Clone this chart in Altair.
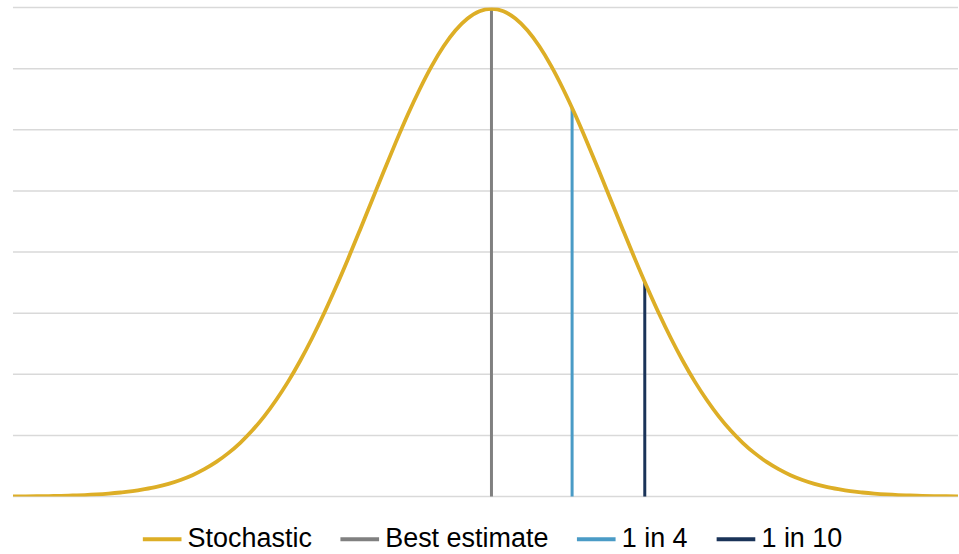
import altair as alt
import pandas as pd

# Standard-normal style density (x in standard deviations)
x_vals = [-4.0, -3.9, -3.8, -3.7, -3.6, -3.5, -3.4, -3.3, -3.2, -3.1, -3.0,
          -2.9, -2.8, -2.7, -2.6, -2.5, -2.4, -2.3, -2.2, -2.1, -2.0,
          -1.9, -1.8, -1.7, -1.6, -1.5, -1.4, -1.3, -1.2, -1.1, -1.0,
          -0.9, -0.8, -0.7, -0.6, -0.5, -0.4, -0.3, -0.2, -0.1, 0.0,
          0.1, 0.2, 0.3, 0.4, 0.5, 0.6, 0.7, 0.8, 0.9, 1.0,
          1.1, 1.2, 1.3, 1.4, 1.5, 1.6, 1.7, 1.8, 1.9, 2.0,
          2.1, 2.2, 2.3, 2.4, 2.5, 2.6, 2.7, 2.8, 2.9, 3.0,
          3.1, 3.2, 3.3, 3.4, 3.5, 3.6, 3.7, 3.8, 3.9, 4.0]
density = [0.0001, 0.0002, 0.0003, 0.0004, 0.0006, 0.0009, 0.0012, 0.0017, 0.0024, 0.0033, 0.0044,
           0.0060, 0.0079, 0.0104, 0.0136, 0.0175, 0.0224, 0.0283, 0.0355, 0.0440, 0.0540,
           0.0656, 0.0790, 0.0940, 0.1109, 0.1295, 0.1497, 0.1714, 0.1942, 0.2179, 0.2420,
           0.2661, 0.2897, 0.3123, 0.3332, 0.3521, 0.3683, 0.3814, 0.3910, 0.3970, 0.3989,
           0.3970, 0.3910, 0.3814, 0.3683, 0.3521, 0.3332, 0.3123, 0.2897, 0.2661, 0.2420,
           0.2179, 0.1942, 0.1714, 0.1497, 0.1295, 0.1109, 0.0940, 0.0790, 0.0656, 0.0540,
           0.0440, 0.0355, 0.0283, 0.0224, 0.0175, 0.0136, 0.0104, 0.0079, 0.0060, 0.0044,
           0.0033, 0.0024, 0.0017, 0.0012, 0.0009, 0.0006, 0.0004, 0.0003, 0.0002, 0.0001]

# Vertical markers
marker_names = ["Best estimate", "1 in 4", "1 in 10"]
marker_x = [0.0, 0.674, 1.2816]
marker_top = [0.3989, 0.3178, 0.1755]

# Gridline levels
grid_values = [0, 0.05, 0.1, 0.15, 0.2, 0.25, 0.3, 0.35, 0.4]

series_names = ["Stochastic", "Best estimate", "1 in 4", "1 in 10"]
series_colors = ["#DDAE26", "#808080", "#4A9BC6", "#1A3358"]

curve_df = pd.DataFrame({"x": x_vals, "y": density, "series": "Stochastic"})
marker_df = pd.DataFrame({"x": marker_x, "y0": 0.0, "y": marker_top, "series": marker_names})
grid_df = pd.DataFrame({"g": grid_values})

color = alt.Color(
    "series:N",
    scale=alt.Scale(domain=series_names, range=series_colors),
    sort=series_names,
    legend=alt.Legend(
        title=None,
        orient="none",
        direction="horizontal",
        legendX=128,
        legendY=511,
        symbolType="stroke",
        symbolSize=1500,
        symbolStrokeWidth=4,
        labelFontSize=27,
        labelFont="Liberation Sans",
        labelColor="#000000",
        labelOffset=4,
        labelLimit=400,
        columnPadding=20,
        symbolOpacity=1,
    ),
)

xscale = alt.Scale(domain=[-4, 3.9], nice=False, zero=False)
yscale = alt.Scale(domain=[0, 0.4], nice=False)

# Horizontal gridlines drawn as full-width rules
grid = alt.Chart(grid_df).mark_rule(color="#D9D9D9", strokeWidth=1.5).encode(
    y=alt.Y("g:Q", scale=yscale, axis=None),
)

rules = alt.Chart(marker_df).mark_rule(strokeWidth=3).encode(
    x=alt.X("x:Q", scale=xscale, axis=None),
    y=alt.Y("y0:Q", scale=yscale, axis=None),
    y2="y:Q",
    color=color,
)

line = alt.Chart(curve_df).mark_line(strokeWidth=3.8, clip=True, interpolate="monotone").encode(
    x=alt.X("x:Q", scale=xscale, axis=None),
    y=alt.Y("y:Q", scale=yscale, axis=None),
    color=color,
)

chart = alt.layer(grid, rules, line).properties(
    width=947,
    height=490,
    background="#FFFFFF",
    padding={"left": 12, "top": 6, "right": 0, "bottom": 0},
).configure_view(
    stroke="transparent", strokeWidth=0
)

chart.save("out.html", embed_options={"renderer": "svg", "actions": False})
